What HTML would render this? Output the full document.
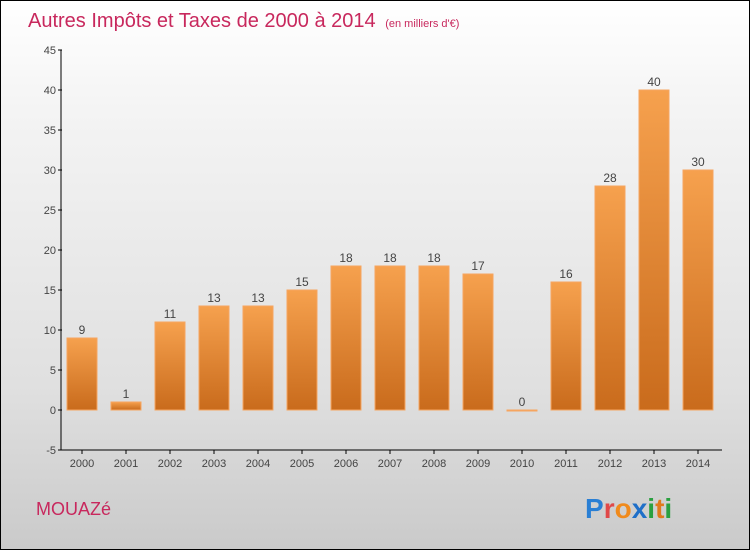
<!DOCTYPE html>
<html><head><meta charset="utf-8"><style>
body{margin:0}
#c{position:relative;width:748px;height:548px;border:1px solid #000;background:linear-gradient(#fff,#f4f4f4 20%,#e0e0e0 70%,#cacaca);font-family:"Liberation Sans",sans-serif;overflow:hidden}
</style></head><body>
<div id="c">
<svg id="s" width="748" height="548">
<defs><linearGradient id="g" x1="0" y1="0" x2="0" y2="1"><stop offset="0" stop-color="#f6a14e"/><stop offset="1" stop-color="#c96b1c"/></linearGradient></defs>
<text x="27" y="26" font-size="20" fill="#c8285d">Autres Impôts et Taxes de 2000 à 2014 <tspan font-size="11" dx="4">(en milliers d'€)</tspan></text>
<text x="35" y="514" font-size="18" fill="#c8285d">MOUAZé</text>
<text x="584" y="517" font-size="28" font-weight="bold"><tspan fill="#2a7fd4">P</tspan><tspan fill="#e04848">r</tspan><tspan fill="#f08a1c">o</tspan><tspan fill="#1f6fc8">x</tspan><tspan fill="#2aa040">i</tspan><tspan fill="#e07a1c">t</tspan><tspan fill="#2aa040">i</tspan></text>
<g id="plot"></g>
</svg></div>
<script>
const years=["2000","2001","2002","2003","2004","2005","2006","2007","2008","2009","2010","2011","2012","2013","2014"];
const values=[9,1,11,13,13,15,18,18,18,17,0,16,28,40,30];
const yTicks=[-5,0,5,10,15,20,25,30,35,40,45];
const NS="http://www.w3.org/2000/svg";
const p=document.getElementById('plot');
const y=v=>409-(v)*8;
const x=i=>81+i*44;
function mk(t,a){const e=document.createElementNS(NS,t);for(const k in a)e.setAttribute(k,a[k]);p.appendChild(e);return e;}
let ax=mk('line',{x1:60,y1:49,x2:60,y2:449,stroke:'#000'});


let xa=mk('line',{x1:60,y1:449,x2:721,y2:449,stroke:'#000'});


yTicks.forEach(v=>{
 mk('line',{x1:57,y1:y(v),x2:61,y2:y(v),stroke:'#000'});
 const t=mk('text',{x:55,y:y(v)+4,'text-anchor':'end','font-size':11,fill:'#444'});t.textContent=v;
 
 
});
years.forEach((yr,i)=>{
 mk('line',{x1:x(i),y1:449,x2:x(i),y2:453,stroke:'#000'});
 const t=mk('text',{x:x(i),y:466,'text-anchor':'middle','font-size':11,fill:'#444'});t.textContent=yr;
 
 
 const v=values[i];
 const h=Math.max(Math.abs(y(v)-y(0)),1);
 const b=mk('rect',{x:x(i)-15,y:Math.min(y(v),y(0)),width:30,height:h,fill:'url(#g)',stroke:'#f6a560','stroke-width':1});
 
 
 const l=mk('text',{x:x(i),y:y(v)-4,'text-anchor':'middle','font-size':12,fill:'#444'});l.textContent=v;
 
 
});
</script>
</body></html>
